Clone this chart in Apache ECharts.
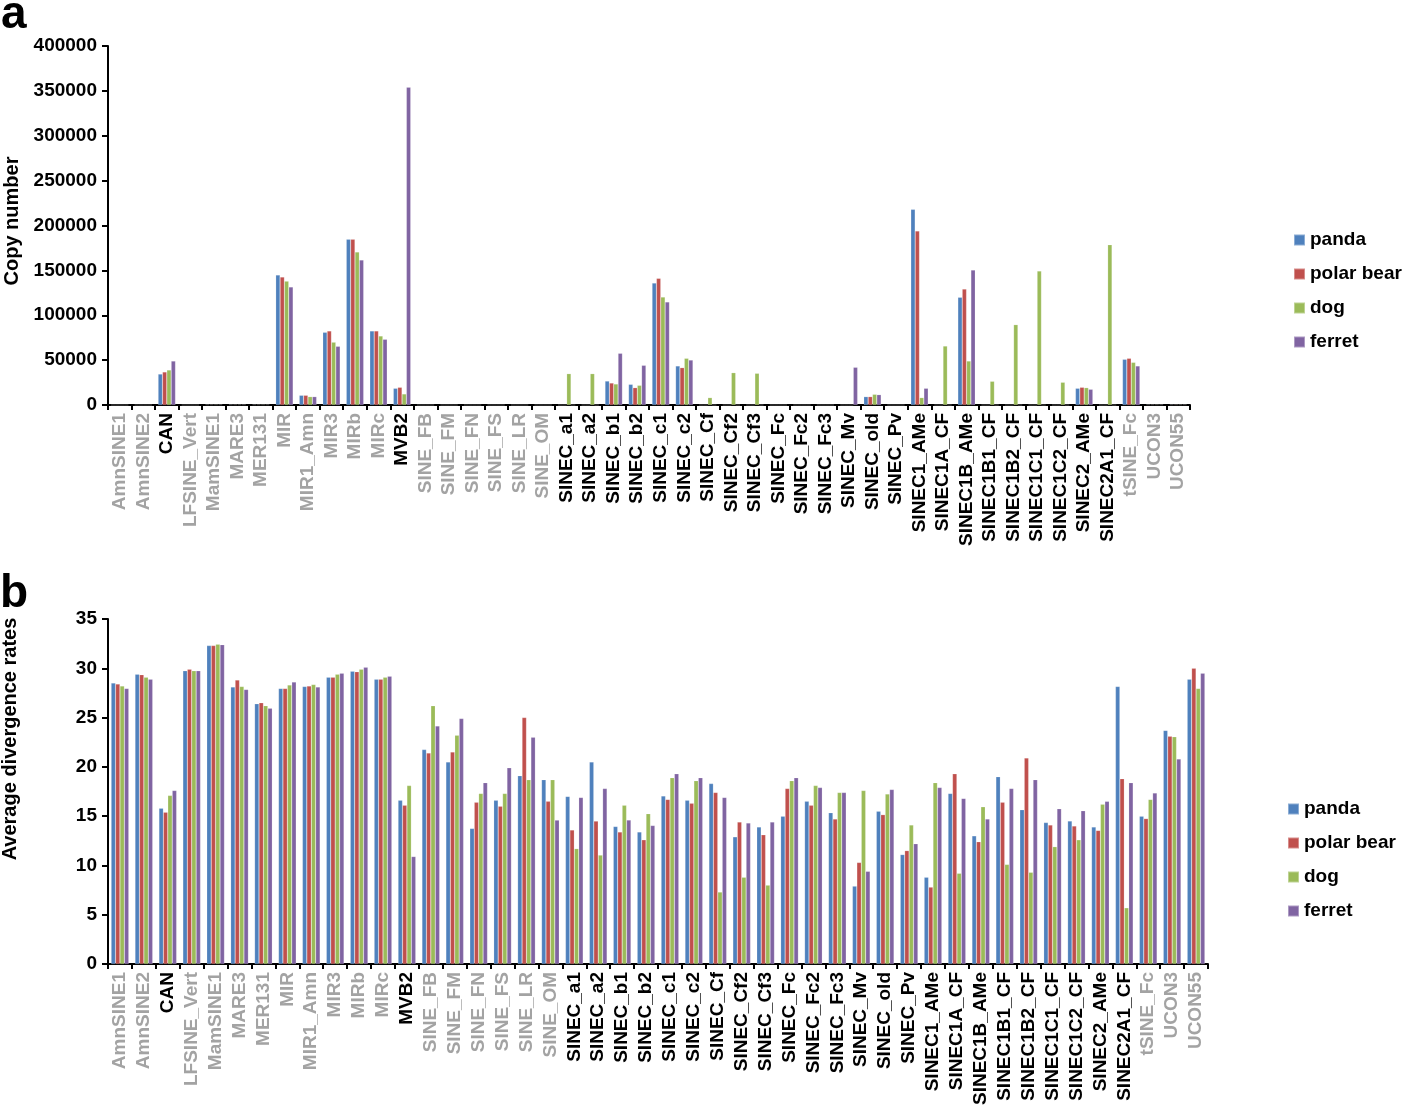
<!DOCTYPE html>
<html>
<head>
<meta charset="utf-8">
<script src="https://cdn.jsdelivr.net/npm/echarts@6/dist/echarts.min.js"></script>
<style>
  html, body { margin: 0; padding: 0; background: #fff; }
  #chart { width: 1415px; height: 1113px; }
</style>
</head>
<body>
<div id="chart"></div>
<script>
const categories = ['AmnSINE1','AmnSINE2','CAN','LFSINE_Vert','MamSINE1','MARE3','MER131','MIR','MIR1_Amn','MIR3','MIRb','MIRc','MVB2','SINE_FB','SINE_FM','SINE_FN','SINE_FS','SINE_LR','SINE_OM','SINEC_a1','SINEC_a2','SINEC_b1','SINEC_b2','SINEC_c1','SINEC_c2','SINEC_Cf','SINEC_Cf2','SINEC_Cf3','SINEC_Fc','SINEC_Fc2','SINEC_Fc3','SINEC_Mv','SINEC_old','SINEC_Pv','SINEC1_AMe','SINEC1A_CF','SINEC1B_AMe','SINEC1B1_CF','SINEC1B2_CF','SINEC1C1_CF','SINEC1C2_CF','SINEC2_AMe','SINEC2A1_CF','tSINE_Fc','UCON3','UCON55'];
const grayCategories = ['AmnSINE1','AmnSINE2','LFSINE_Vert','MamSINE1','MARE3','MER131','MIR','MIR1_Amn','MIR3','MIRb','MIRc','SINE_FB','SINE_FM','SINE_FN','SINE_FS','SINE_LR','SINE_OM','tSINE_Fc','UCON3','UCON55'];
const speciesNames = ['panda','polar bear','dog','ferret'];
const speciesColors = ['#4F81BD','#C0504D','#9BBB59','#8064A2'];

// Panel a: copy number
const copyPanda  = [0,0,34500,0,600,600,600,144900,10800,81000,184600,82500,18600,0,0,0,0,0,0,0,0,26700,23000,135900,43500,0,0,0,0,0,0,0,9300,0,218000,0,120000,0,0,0,0,18600,0,50900,600,600];
const copyPolar  = [0,0,36800,0,600,600,600,142600,10800,82500,184600,82500,19700,0,0,0,0,0,0,0,0,24500,19300,141100,41600,0,0,0,0,0,0,0,9300,0,193900,0,129200,0,0,0,0,19700,0,52000,600,600];
const copyDog    = [0,0,39000,0,600,600,600,138000,9300,70000,170500,76900,12300,0,0,0,0,0,0,34900,34900,23400,21900,120300,52000,8200,36000,35300,0,0,0,0,11900,0,8200,65700,49000,26400,89500,149300,25300,19300,178600,47500,600,600];
const copyFerret = [0,0,49000,0,600,600,600,131500,9300,65400,161600,73200,354000,0,0,0,0,0,0,0,0,57600,44200,114800,50100,0,0,0,0,0,0,42000,11500,0,18600,0,150400,0,0,0,0,17500,0,43500,600,600];

// Panel b: average divergence rates
const divPanda  = [28.5,29.4,15.8,29.75,32.3,28.1,26.4,27.95,28.15,29.1,29.7,28.9,16.6,21.75,20.5,13.75,16.6,19.1,18.7,17.0,20.5,13.95,13.4,17.05,16.6,18.3,12.9,13.9,15.0,16.5,15.35,7.9,15.5,11.1,8.8,17.3,13.0,19.0,15.65,14.35,14.5,13.9,28.15,15.0,23.7,28.9];
const divPolar  = [28.4,29.35,15.4,29.9,32.3,28.8,26.5,27.95,28.2,29.1,29.65,28.9,16.1,21.4,21.5,16.4,16.0,25.0,16.5,13.6,14.5,13.4,12.6,16.7,16.3,17.4,14.4,13.1,17.8,16.1,14.7,10.3,15.15,11.5,7.8,19.3,12.4,16.4,20.9,14.1,14.0,13.55,18.8,14.75,23.1,30.0];
const divDog    = [28.2,29.1,17.1,29.75,32.45,28.15,26.2,28.3,28.35,29.4,29.9,29.1,18.1,26.2,23.2,17.3,17.3,18.7,18.7,11.7,11.05,16.1,15.25,18.9,18.6,7.3,8.8,8.0,18.6,18.1,17.4,17.6,17.25,14.1,18.4,9.2,15.95,10.1,9.3,11.9,12.6,16.2,5.7,16.7,23.05,27.95];
const divFerret = [27.95,28.9,17.6,29.75,32.4,27.85,25.95,28.6,28.1,29.5,30.1,29.2,10.9,24.15,24.9,18.4,19.9,23.0,14.6,16.9,17.8,14.6,14.05,19.3,18.9,16.9,14.3,14.4,18.9,17.9,17.4,9.4,17.7,12.2,17.9,16.8,14.7,17.8,18.7,15.75,15.55,16.5,18.4,17.35,20.8,29.5];

const copyTicks = { min: 0, max: 400000, interval: 50000 };
const divTicks = { min: 0, max: 35, interval: 5 };

const FONT = 'Liberation Sans, Arial, Helvetica, sans-serif';

const catData = categories.map(c => ({
  value: c,
  textStyle: { color: grayCategories.includes(c) ? '#a3a3a3' : '#000000' }
}));

function xAxisCfg(gridIndex) {
  return {
    type: 'category', gridIndex, data: catData,
    axisLine: { show: true, lineStyle: { color: '#000', width: 2 } },
    axisTick: { show: true, length: 5, lineStyle: { color: '#000', width: 2 } },
    axisLabel: { interval: 0, rotate: 90, margin: 8, fontSize: 19, fontWeight: 'bold', fontFamily: FONT }
  };
}
function yAxisCfg(gridIndex, t) {
  return {
    type: 'value', gridIndex, min: t.min, max: t.max, interval: t.interval,
    axisLine: { show: true, lineStyle: { color: '#000', width: 2 } },
    axisTick: { show: true, length: 6, lineStyle: { color: '#000', width: 2 } },
    splitLine: { show: false },
    axisLabel: { margin: 11, fontSize: 19, fontWeight: 'bold', color: '#000', fontFamily: FONT,
      formatter: v => String(v) }
  };
}

const copySets = [copyPanda, copyPolar, copyDog, copyFerret];
const divSets = [divPanda, divPolar, divDog, divFerret];
const series = [];
speciesNames.forEach((n, i) => {
  series.push({ name: n, type: 'bar', xAxisIndex: 0, yAxisIndex: 0, data: copySets[i],
    barGap: '0%', barCategoryGap: '26%',
    itemStyle: { color: speciesColors[i], borderColor: 'rgba(255,255,255,0.35)', borderWidth: 0.5 }, animation: false });
});
speciesNames.forEach((n, i) => {
  series.push({ name: n, type: 'bar', xAxisIndex: 1, yAxisIndex: 1, data: divSets[i],
    barGap: '0%', barCategoryGap: '26%',
    itemStyle: { color: speciesColors[i], borderColor: 'rgba(255,255,255,0.35)', borderWidth: 0.5 }, animation: false });
});

const legendBase = {
  orient: 'vertical', data: speciesNames, icon: 'rect', itemWidth: 11, itemHeight: 11,
  itemGap: 14, padding: 0, selectedMode: false,
  textStyle: { fontSize: 19, fontWeight: 'bold', color: '#000', fontFamily: FONT, lineHeight: 20 }
};

const option = {
  backgroundColor: '#fff',
  animation: false,
  grid: [
    { left: 108, top: 46, width: 1082, height: 359 },
    { left: 108, top: 619, width: 1100, height: 345 }
  ],
  xAxis: [xAxisCfg(0), xAxisCfg(1)],
  yAxis: [yAxisCfg(0, copyTicks), yAxisCfg(1, divTicks)],
  legend: [
    Object.assign({}, legendBase, { left: 1293, top: 230 }),
    Object.assign({}, legendBase, { left: 1287, top: 799 })
  ],
  graphic: [
    { type: 'text', x: 1, y: 15, style: { text: 'a', font: 'bold 46px ' + FONT, fill: '#000', textVerticalAlign: 'middle' } },
    { type: 'text', x: 0, y: 594, style: { text: 'b', font: 'bold 46px ' + FONT, fill: '#000', textVerticalAlign: 'middle' } },
    { type: 'text', x: 12, y: 221, rotation: Math.PI / 2,
      style: { text: 'Copy number', font: 'bold 20px ' + FONT, fill: '#000', textAlign: 'center', textVerticalAlign: 'middle' } },
    { type: 'text', x: 10, y: 739, rotation: Math.PI / 2,
      style: { text: 'Average divergence rates', font: 'bold 20px ' + FONT, fill: '#000', textAlign: 'center', textVerticalAlign: 'middle' } }
  ],
  series
};

const chart = echarts.init(document.getElementById('chart'), null, { renderer: 'canvas' });
chart.setOption(option);
</script>
</body>
</html>
